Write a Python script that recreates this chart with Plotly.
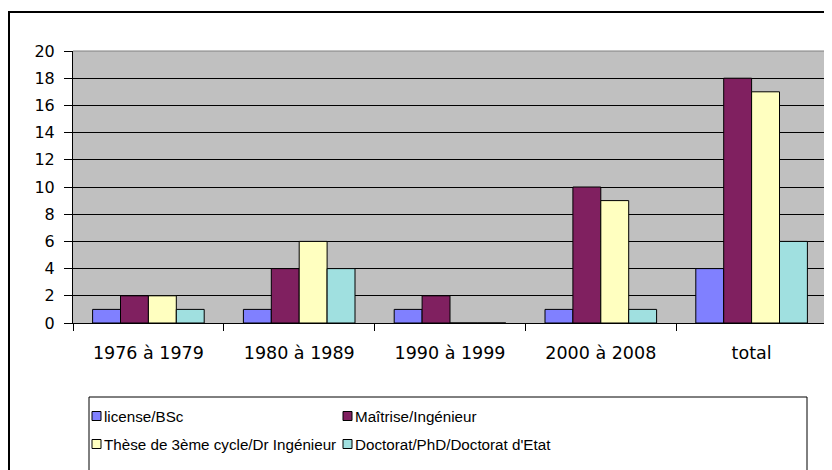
import plotly.graph_objects as go

categories = ["1976 à 1979", "1980 à 1989", "1990 à 1999", "2000 à 2008", "total"]
series_names = ["license/BSc", "Maîtrise/Ingénieur",
                "Thèse de 3ème cycle/Dr Ingénieur", "Doctorat/PhD/Doctorat d'Etat"]
license_bsc = [1, 1, 1, 1, 4]
maitrise = [2, 4, 2, 10, 18]
these = [2, 6, 0, 9, 17]
doctorat = [1, 4, 0, 1, 6]
y_ticks = [0, 2, 4, 6, 8, 10, 12, 14, 16, 18, 20]

colors = ["#8080FF", "#802060", "#FFFFC0", "#A0E0E0"]
series_values = [license_bsc, maitrise, these, doctorat]

W, H = 832, 470
OFF = 8  # page body margin
# desired page coordinates of the plot area
PL, PR, PT, PB = 73, 827, 51, 323
ML, MT = PL - OFF, PT - OFF
MR = W - (PR - OFF)
MB = H - (PB - OFF)
PW, PH = PR - PL, PB - PT

def px_x(x):
    return (x - PL) / PW

def px_y(y):
    return (PB - y) / PH

AX_FONT = "DejaVu Sans"
LEG_FONT = "Liberation Sans"

fig = go.Figure()
for name, vals, col in zip(series_names, series_values, colors):
    fig.add_trace(go.Bar(
        x=categories, y=vals, name=name,
        marker=dict(color=col, line=dict(color="black", width=1)),
        showlegend=False,
    ))

shapes = []
annotations = []
# outer chart border
shapes.append(dict(type="rect", xref="paper", yref="paper",
                   x0=px_x(9), x1=px_x(845), y0=px_y(490), y1=px_y(12),
                   line=dict(color="black", width=2), fillcolor="rgba(0,0,0,0)",
                   layer="below"))
# plot area frame (top/right gray)
shapes.append(dict(type="line", xref="paper", yref="paper", x0=0, x1=1, y0=1, y1=1,
                   line=dict(color="#808080", width=1)))
shapes.append(dict(type="line", xref="paper", yref="paper", x0=1, x1=1, y0=0, y1=1,
                   line=dict(color="#808080", width=1)))
# legend box
shapes.append(dict(type="rect", xref="paper", yref="paper",
                   x0=px_x(89), x1=px_x(807), y0=px_y(490), y1=px_y(397),
                   line=dict(color="black", width=1), fillcolor="white"))
legend_pos = [(92, 416), (343, 416), (92, 444), (343, 444)]
for (lx, ly), name, col in zip(legend_pos, series_names, colors):
    shapes.append(dict(type="rect", xref="paper", yref="paper",
                       x0=px_x(lx), x1=px_x(lx + 9), y0=px_y(ly + 4.5), y1=px_y(ly - 4.5),
                       line=dict(color="black", width=1), fillcolor=col))
    annotations.append(dict(x=px_x(lx + 10), y=px_y(ly), xref="paper", yref="paper",
                            text=name, showarrow=False, xanchor="left", yanchor="middle",
                            font=dict(family=LEG_FONT, size=15.2, color="black")))

fig.update_layout(
    width=W, height=H,
    margin=dict(l=ML, r=MR, t=MT, b=MB, pad=0),
    paper_bgcolor="white", plot_bgcolor="#C0C0C0",
    barmode="group", bargap=0.26, bargroupgap=0,
    font=dict(family=AX_FONT, size=16, color="black"),
    shapes=shapes, annotations=annotations,
    xaxis=dict(type="category", tickson="boundaries", ticks="outside", ticklen=7,
               tickcolor="black", tickwidth=1, showgrid=False,
               showline=True, linecolor="black", linewidth=1,
               ticklabelstandoff=14, tickfont=dict(family=AX_FONT, size=17.5)),
    yaxis=dict(range=[0, 20], tickvals=y_ticks, ticks="outside", ticklen=8,
               tickcolor="black", tickwidth=1, showgrid=True, gridcolor="black",
               gridwidth=1, showline=True, linecolor="black", linewidth=1,
               zeroline=False, ticklabelstandoff=6, tickfont=dict(family=AX_FONT, size=16)),
)

fig.write_html("out.html")
